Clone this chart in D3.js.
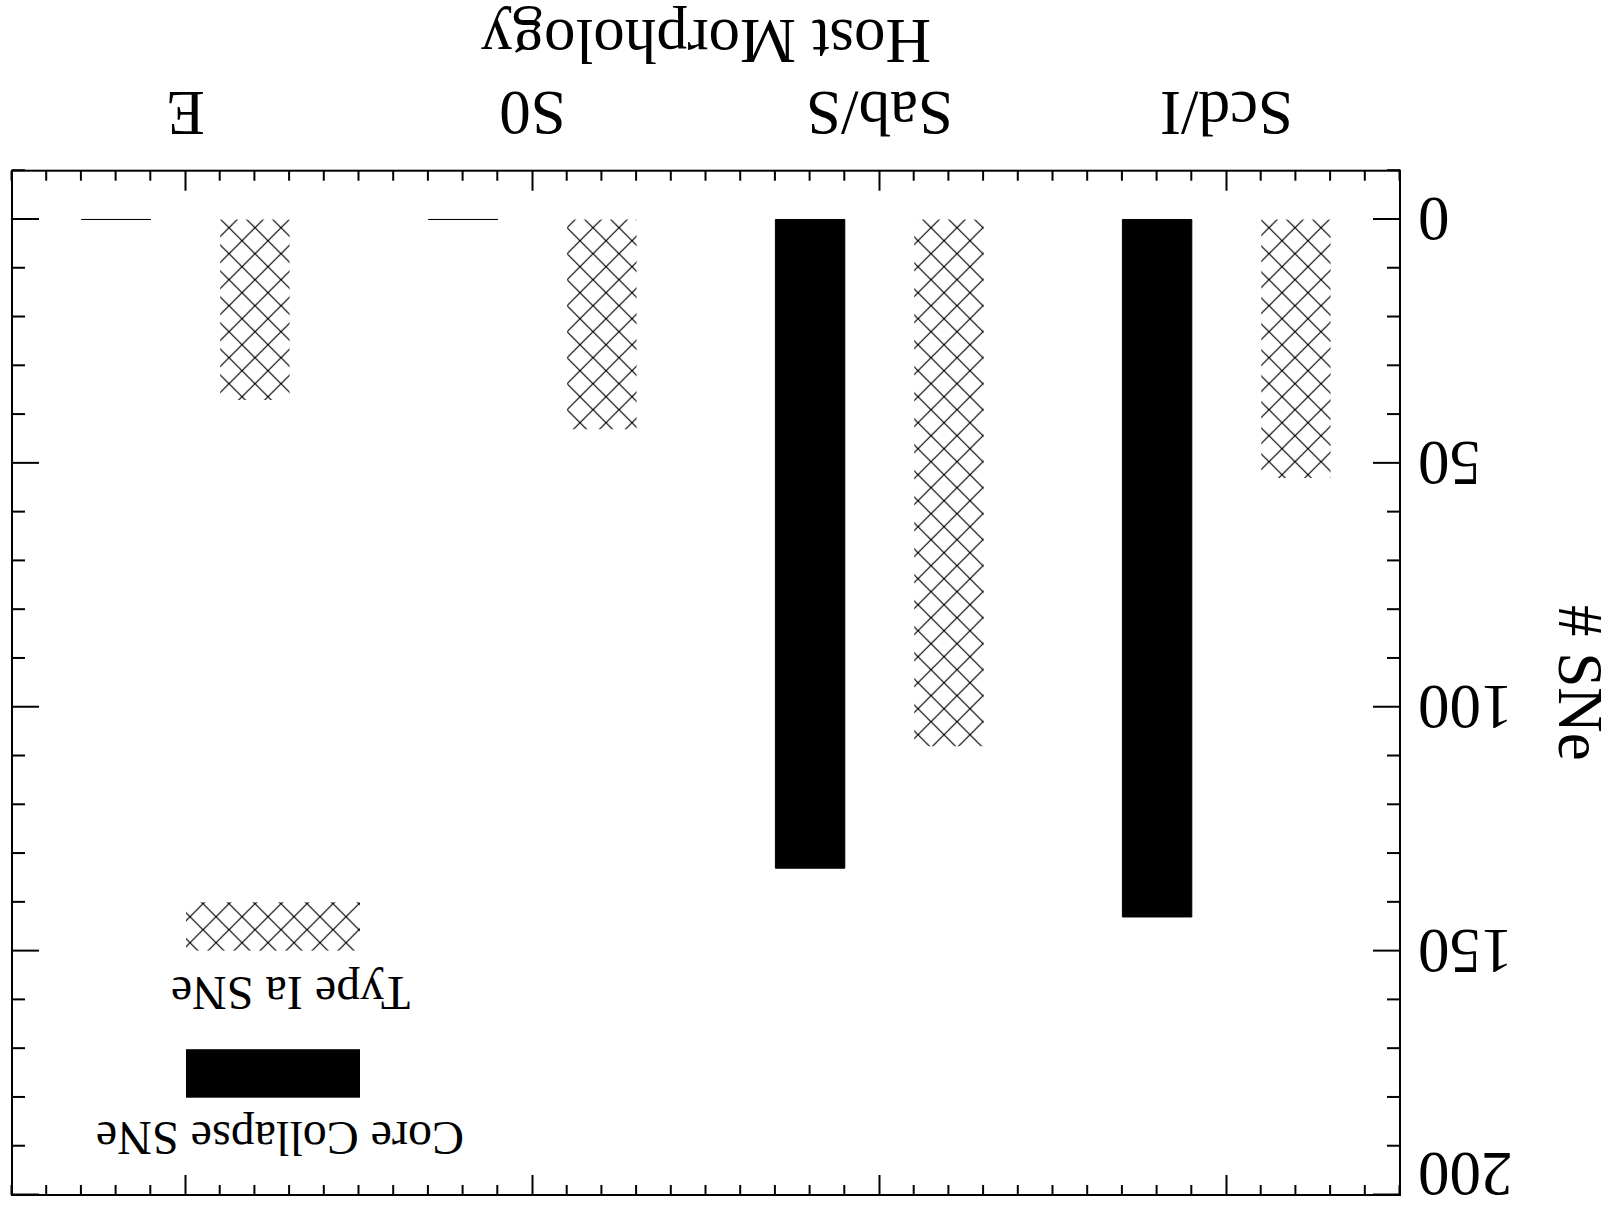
<!DOCTYPE html>
<html>
<head>
<meta charset="utf-8">
<script src="https://cdn.jsdelivr.net/npm/d3@7"></script>
<style>
  html, body { margin: 0; padding: 0; background: #ffffff; }
  svg { display: block; }
</style>
</head>
<body>
<script>
// ---- data (original, unrotated orientation: left -> right) ----
const categories = ["Scd/I", "Sab/S", "S0", "E"];
const coreCollapse = [143, 133, 0, 0];
const typeIa = [53, 108, 43, 37];
const seriesNames = ["Core Collapse SNe", "Type Ia SNe"];
const yTickValues = [0, 50, 100, 150, 200];
const xTitle = "Host Morphology";
const yTitle = "# SNe";

(function () {
const W = 1616, H = 1209;
const FONT = "'Liberation Serif', 'Times New Roman', Times, serif";

const svg = d3.select("body").append("svg")
  .attr("width", W).attr("height", H);
svg.append("rect").attr("width", W).attr("height", H).attr("fill", "#fff");

// whole chart is drawn upright, then turned 180 degrees like the reference
const g = svg.append("g").attr("transform", `rotate(180 ${W / 2} ${H / 2})`);

const pLeft = 216, pRight = 1604, pTop = 14, pBottom = 1038.3;

const xLin = d3.scaleLinear().domain([0, categories.length]).range([pLeft, pRight]);
const xBand = d3.scaleBand().domain(categories).range([pLeft, pRight]).paddingInner(0).paddingOuter(0);
const y = d3.scaleLinear().domain([-10, 200]).range([pBottom, pTop]);
const bw = xBand.bandwidth();

// hatch pattern
const defs = svg.append("defs");
const pat = defs.append("pattern")
  .attr("id", "hatch")
  .attr("patternUnits", "userSpaceOnUse")
  .attr("x", 1387).attr("y", 981.3)
  .attr("width", 26).attr("height", 26);
pat.append("path")
  .attr("d", "M-1,-1L27,27M27,-1L-1,27")
  .attr("stroke", "#000").attr("stroke-width", 1.2).attr("fill", "none");

// ---- bars ----
function barPath(x0, x1, v) {
  const p = d3.path();
  p.moveTo(x0, y(0));
  p.lineTo(x1, y(0));
  p.lineTo(x1, y(v));
  p.lineTo(x0, y(v));
  p.closePath();
  return p.toString();
}

const barData = categories.map((c, i) => ({ c, cc: coreCollapse[i], ia: typeIa[i] }));

g.selectAll("path.ia").data(barData).join("path")
  .attr("class", "ia")
  .attr("d", d => barPath(xBand(d.c) + 0.2 * bw, xBand(d.c) + 0.4 * bw, d.ia))
  .attr("fill", "url(#hatch)")
  .attr("stroke", "none");

g.selectAll("path.cc").data(barData).join("path")
  .attr("class", "cc")
  .attr("d", d => barPath(xBand(d.c) + 0.6 * bw, xBand(d.c) + 0.8 * bw, d.cc))
  .attr("fill", "#000")
  .attr("stroke", "#000")
  .attr("stroke-width", 1);

// ---- axes ----
function styleAxis(sel) {
  sel.select(".domain").remove();
  sel.selectAll(".tick line").attr("stroke", "#000").attr("stroke-width", 2);
  sel.selectAll("text").attr("font-family", FONT).attr("font-size", 63).attr("fill", "#000");
  sel.attr("font-family", FONT).attr("font-size", 63);
}

const xMinor = d3.range(0, 41).map(k => k / 10).filter(v => Math.abs(v % 1 - 0.5) > 1e-6);
const yMinor = d3.range(-10, 201, 10).filter(v => !yTickValues.includes(v));

// bottom (original) category axis
g.append("g").attr("transform", `translate(0,${pBottom})`)
  .call(d3.axisBottom(xBand).tickSizeInner(-20).tickSizeOuter(0).tickPadding(34.3))
  .call(styleAxis);
g.append("g").attr("transform", `translate(0,${pBottom})`)
  .call(d3.axisBottom(xLin).tickValues(xMinor).tickSizeInner(-10).tickSizeOuter(0).tickFormat(""))
  .call(styleAxis);
// top
g.append("g").attr("transform", `translate(0,${pTop})`)
  .call(d3.axisTop(xBand).tickSizeInner(-20).tickSizeOuter(0).tickFormat(""))
  .call(styleAxis);
g.append("g").attr("transform", `translate(0,${pTop})`)
  .call(d3.axisTop(xLin).tickValues(xMinor).tickSizeInner(-10).tickSizeOuter(0).tickFormat(""))
  .call(styleAxis);

// left (labelled)
const yAxisG = g.append("g").attr("transform", `translate(${pLeft},0)`)
  .call(d3.axisLeft(y).tickValues(yTickValues).tickSizeInner(-27).tickSizeOuter(0).tickPadding(18).tickFormat(d3.format("d")))
  .call(styleAxis);
yAxisG.selectAll(".tick text")
  .attr("dy", null)
  .attr("y", d => Math.max(y(d) + 21, 56) - y(d));
g.append("g").attr("transform", `translate(${pLeft},0)`)
  .call(d3.axisLeft(y).tickValues(yMinor).tickSizeInner(-13).tickSizeOuter(0).tickFormat(""))
  .call(styleAxis);
// right
g.append("g").attr("transform", `translate(${pRight},0)`)
  .call(d3.axisRight(y).tickValues(yTickValues).tickSizeInner(-27).tickSizeOuter(0).tickFormat(""))
  .call(styleAxis);
g.append("g").attr("transform", `translate(${pRight},0)`)
  .call(d3.axisRight(y).tickValues(yMinor).tickSizeInner(-13).tickSizeOuter(0).tickFormat(""))
  .call(styleAxis);

// frame
g.append("rect")
  .attr("x", pLeft).attr("y", pTop)
  .attr("width", pRight - pLeft).attr("height", pBottom - pTop)
  .attr("fill", "none").attr("stroke", "#000").attr("stroke-width", 2);

// titles
g.append("text")
  .attr("x", (pLeft + pRight) / 2).attr("y", 1189)
  .attr("text-anchor", "middle")
  .attr("font-family", FONT).attr("font-size", 63).attr("fill", "#000")
  .text(xTitle);

g.append("text")
  .attr("transform", `translate(57,${(pTop + pBottom) / 2}) rotate(-90)`)
  .attr("text-anchor", "middle")
  .attr("font-family", FONT).attr("font-size", 63).attr("fill", "#000")
  .text(yTitle);

// legend
const legend = g.append("g");
const legendItems = [
  { name: seriesNames[0], tx: 1336, ty: 87, ry: 111.3, fill: "#000" },
  { name: seriesNames[1], tx: 1325.5, ty: 232, ry: 258.3, fill: "url(#hatch)" }
];
legendItems.forEach(it => {
  legend.append("text")
    .attr("x", it.tx).attr("y", it.ty)
    .attr("text-anchor", "middle")
    .attr("font-family", FONT).attr("font-size", 48).attr("fill", "#000")
    .text(it.name);
  legend.append("rect")
    .attr("x", 1256).attr("y", it.ry)
    .attr("width", 174).attr("height", 48.5)
    .attr("fill", it.fill);
});
})();
</script>
</body>
</html>
